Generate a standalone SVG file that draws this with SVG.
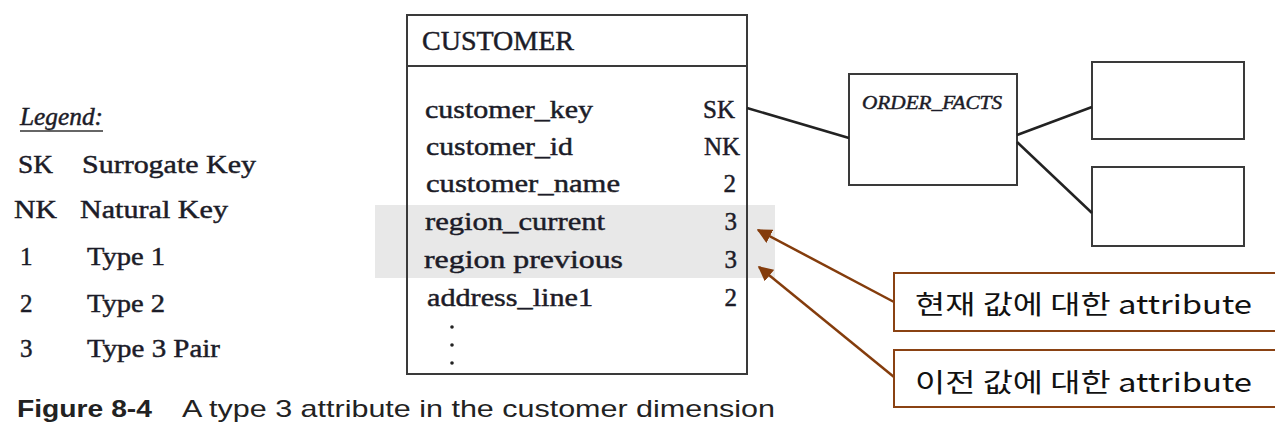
<svg xmlns="http://www.w3.org/2000/svg" width="1275" height="426" viewBox="0 0 1275 426">
  <style>
    .serif { font-family: "Liberation Serif", "DejaVu Serif", serif; fill: #1c1c28; stroke: #1c1c28; stroke-width: 0.45; }
    .row { font-size: 25px; }
    .code { font-size: 25px; text-anchor: end; }
    .box { fill: #ffffff; stroke: #3a3a3a; stroke-width: 2; }
    .conn { fill: none; stroke: #222222; stroke-width: 2.5; }
    .callout { fill: #ffffff; stroke: #8a4213; stroke-width: 2; }
    .ko { font-family: "Noto Sans CJK KR", "Noto Sans", sans-serif; font-size: 26px; fill: #111111; }
    .brown { fill: none; stroke: #843c0c; stroke-width: 2.5; }
    .cap { font-family: "Liberation Sans", "Noto Sans", sans-serif; font-size: 24px; fill: #222222; }
  </style>
  <defs>
    <marker id="ah" viewBox="0 0 10 10" refX="9" refY="5" markerWidth="6" markerHeight="6" orient="auto" markerUnits="strokeWidth">
      <path d="M0,0 L10,5 L0,10 Z" fill="#843c0c"/>
    </marker>
  </defs>
  <rect width="1275" height="426" fill="#ffffff"/>

  <g id="legend">
    <text class="serif" x="20" y="125" font-size="25" font-style="italic" textLength="83" lengthAdjust="spacingAndGlyphs">Legend:</text>
    <line x1="20" y1="131" x2="103" y2="131" stroke="#333" stroke-width="1.5"/>
    <text class="serif row" x="18" y="173" textLength="35" lengthAdjust="spacingAndGlyphs">SK</text>
    <text class="serif row" x="82" y="173" textLength="174" lengthAdjust="spacingAndGlyphs">Surrogate Key</text>
    <text class="serif row" x="14" y="218" textLength="43" lengthAdjust="spacingAndGlyphs">NK</text>
    <text class="serif row" x="80" y="218" textLength="148" lengthAdjust="spacingAndGlyphs">Natural Key</text>
    <text class="serif row" x="20" y="265">1</text>
    <text class="serif row" x="87" y="265" textLength="78" lengthAdjust="spacingAndGlyphs">Type 1</text>
    <text class="serif row" x="20" y="312">2</text>
    <text class="serif row" x="87" y="312" textLength="78" lengthAdjust="spacingAndGlyphs">Type 2</text>
    <text class="serif row" x="20" y="357">3</text>
    <text class="serif row" x="87" y="357" textLength="133" lengthAdjust="spacingAndGlyphs">Type 3 Pair</text>
  </g>

  <rect x="375" y="205" width="400" height="73" fill="#e8e8e8"/>

  <g id="customer">
    <rect x="407" y="15" width="340" height="359" fill="none" stroke="#3a3a3a" stroke-width="2"/>
    <line x1="407" y1="66" x2="747" y2="66" stroke="#3a3a3a" stroke-width="2"/>
    <text class="serif" x="422" y="50" font-size="27" textLength="152" lengthAdjust="spacingAndGlyphs">CUSTOMER</text>
    <text class="serif row" x="425" y="118" textLength="168" lengthAdjust="spacingAndGlyphs">customer_key</text>
    <text class="serif code" x="735" y="118">SK</text>
    <text class="serif row" x="426" y="155" textLength="147" lengthAdjust="spacingAndGlyphs">customer_id</text>
    <text class="serif code" x="740" y="155">NK</text>
    <text class="serif row" x="426" y="192" textLength="194" lengthAdjust="spacingAndGlyphs">customer_name</text>
    <text class="serif code" x="736" y="192">2</text>
    <text class="serif row" x="425" y="230" textLength="180" lengthAdjust="spacingAndGlyphs">region_current</text>
    <text class="serif code" x="737" y="230">3</text>
    <text class="serif row" x="424" y="268" textLength="199" lengthAdjust="spacingAndGlyphs">region  previous</text>
    <text class="serif code" x="737" y="268">3</text>
    <text class="serif row" x="427" y="306" textLength="166" lengthAdjust="spacingAndGlyphs">address_line1</text>
    <text class="serif code" x="737" y="306">2</text>
    <circle cx="452" cy="327" r="1.8" fill="#222"/>
    <circle cx="452" cy="345" r="1.8" fill="#222"/>
    <circle cx="452" cy="363" r="1.8" fill="#222"/>
  </g>

  <g id="order_facts">
    <rect class="box" x="849" y="74" width="168" height="111"/>
    <text class="serif" x="862" y="109" font-size="19" font-style="italic" fill="#333" stroke-width="0.3" textLength="140" lengthAdjust="spacingAndGlyphs">ORDER_FACTS</text>
  </g>
  <g id="dim_top">
    <rect class="box" x="1092" y="62" width="152" height="77"/>
  </g>
  <g id="dim_bottom">
    <rect class="box" x="1092" y="167" width="152" height="79"/>
  </g>

  <g id="connectors">
    <line class="conn" x1="747" y1="108" x2="849" y2="138"/>
    <line class="conn" x1="1017" y1="135" x2="1092" y2="107"/>
    <line class="conn" x1="1017" y1="142" x2="1092" y2="213"/>
    <line class="brown" x1="894" y1="302" x2="758" y2="230" marker-end="url(#ah)"/>
    <line class="brown" x1="894" y1="377" x2="759" y2="267" marker-end="url(#ah)"/>
  </g>

  <g id="callout_current">
    <rect class="callout" x="894" y="273" width="390" height="58"/>
    <text class="ko" x="915" y="314" textLength="337" lengthAdjust="spacingAndGlyphs">현재 값에 대한 attribute</text>
  </g>
  <g id="callout_previous">
    <rect class="callout" x="894" y="350" width="390" height="57"/>
    <text class="ko" x="915" y="392" textLength="337" lengthAdjust="spacingAndGlyphs">이전 값에 대한 attribute</text>
  </g>

  <g id="caption">
    <text class="cap" x="17" y="417" font-weight="bold" textLength="135" lengthAdjust="spacingAndGlyphs">Figure 8-4</text>
    <text class="cap" x="182" y="417" textLength="593" lengthAdjust="spacingAndGlyphs">A type 3 attribute in the customer dimension</text>
  </g>
</svg>
